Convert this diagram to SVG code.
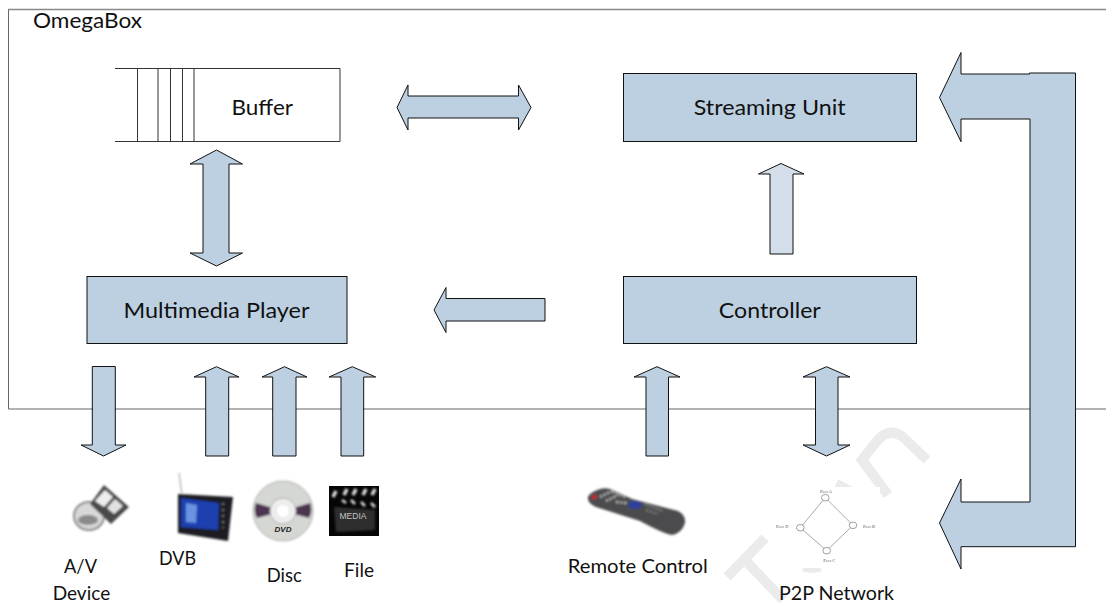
<svg xmlns="http://www.w3.org/2000/svg" width="1106" height="603" viewBox="0 0 1106 603">
<style>
.box{fill:#bdd0e2;stroke:#111;stroke-width:1}
.arr{fill:#bdd0e2;stroke:#111;stroke-width:1;stroke-linejoin:miter}
.lbl{font-family:Lato,"Liberation Sans",sans-serif;font-size:22px;fill:#111}
.sm{font-family:Lato,"Liberation Sans",sans-serif;font-size:18.5px;fill:#111}
.ln{fill:none;stroke:#333;stroke-width:1}
.wm{fill:none;stroke:#ebebeb;stroke-width:10}
.peer{font-family:"Liberation Serif",serif;font-size:4.5px;fill:#555;text-anchor:middle}
.pc{fill:#fff;stroke:#888;stroke-width:.8}
</style>
<defs>
<filter id="soft" x="-10%" y="-10%" width="120%" height="120%"><feGaussianBlur stdDeviation="0.8"/></filter>
<filter id="soft2" x="-10%" y="-10%" width="120%" height="120%"><feGaussianBlur stdDeviation="1.2"/></filter>
</defs>
<rect width="1106" height="603" fill="#fff"/>
<g id="watermark">
<path class="wm" d="M727 577L765 538M745 560L783 600"/>
<path class="wm" d="M927 460L903 437Q889 427 877 441L862 460L888 495"/>
<path class="wm" d="M836 484L852 492"/>
<path class="wm" style="stroke-width:5" d="M803 569Q812 572 821 569"/>
<rect x="770" y="487" width="110" height="81" fill="#fff"/>
</g>
<g id="omegabox">
<path d="M1106 9.5H8.5V409H1106" fill="none" stroke="#666" stroke-width="1"/>
<path d="M8 9.5H1106" stroke="#888" stroke-width="1.5"/>
<text class="lbl" x="33" y="27.7" textLength="109" lengthAdjust="spacingAndGlyphs">OmegaBox</text>
</g>
<g id="connectors">
<polygon class="arr" points="216.5,150 242.5,164 229,164 229,253 242.5,253 216.5,266 190,253 203,253 203,164 190,164"/>
<polygon class="arr" points="397,107.5 408,85 408,96 518.5,96 518.5,85 531,107.5 518.5,130 518.5,118 408,118 408,130"/>
<polygon class="arr" points="434,310 446,287.5 446,298.5 545,298.5 545,321 446,321 446,332.5"/>
<polygon class="arr" style="fill:#d3deea" points="781,163.5 804,174 793,174 793,254 770,254 770,174 758.5,174"/>
<polygon class="arr" points="939.5,97.5 961,52.5 961,74 1029.5,74 1029.5,73 1075.5,73 1075.5,546.7 961,546.7 961,569 939.5,523 961,479 961,502 1030,502 1030,119 961,119 961,141.7"/>
<polygon class="arr" points="92.3,366.5 115.3,366.5 115.3,445 126,445 103.5,456 81,445 92.3,445"/>
<polygon class="arr" points="216.5,366.7 239,377 228.7,377 228.7,456 205.7,456 205.7,377 194,377"/>
<polygon class="arr" points="284.5,366.7 307,377 296,377 296,456 272.7,456 272.7,377 262,377"/>
<polygon class="arr" points="352.3,366.7 375.7,377 363.7,377 363.7,456 341,456 341,377 329,377"/>
<polygon class="arr" points="657,366.7 680,377 668.5,377 668.5,456 646,456 646,377 634,377"/>
<polygon class="arr" points="826.5,366.7 850,377 838,377 838,445 850,445 826.5,456 803,445 815.5,445 815.5,377 803,377"/>
</g>
<g id="buffer">
<rect x="115" y="68.5" width="225" height="73" fill="#fff" stroke="none"/>
<path class="ln" d="M115 68.5H340V141.5H115M137.5 68.5V141.5M158 68.5V141.5M170.5 68.5V141.5M182.5 68.5V141.5M194 68.5V141.5"/>
<text class="lbl" x="231.5" y="114.7" textLength="61.5" lengthAdjust="spacingAndGlyphs">Buffer</text>
</g>
<g id="multimedia-player">
<rect class="box" x="87" y="276.5" width="260" height="67"/>
<text class="lbl" x="123.5" y="317.7" textLength="186" lengthAdjust="spacingAndGlyphs">Multimedia Player</text>
</g>
<g id="streaming-unit">
<rect class="box" x="623.5" y="73.5" width="293" height="68"/>
<text class="lbl" x="693.7" y="115" textLength="152" lengthAdjust="spacingAndGlyphs">Streaming Unit</text>
</g>
<g id="controller">
<rect class="box" x="623.5" y="276.5" width="293" height="67"/>
<text class="lbl" x="718.8" y="317.7" textLength="102" lengthAdjust="spacingAndGlyphs">Controller</text>
</g>
<g id="av-device">
<g filter="url(#soft2)">
<ellipse cx="89" cy="516" rx="15" ry="14" fill="#d8d8d8" stroke="#8a8a8a" stroke-width="2"/>
<ellipse cx="88" cy="520" rx="10" ry="5" fill="#8a8a8a"/>
<polygon points="104,485 129,507 111,524 90,504" fill="#4a4a4a"/>
<polygon points="105,490 113,497 104,507 95,501" fill="#eee"/>
<polygon points="115,499 123,506 114,514 107,508" fill="#e2e2e2"/>
</g>
<text class="sm" x="64" y="573" textLength="33" lengthAdjust="spacingAndGlyphs">A/V</text>
<text class="sm" x="52.7" y="600" textLength="57.5" lengthAdjust="spacingAndGlyphs">Device</text>
</g>
<g id="dvb">
<g filter="url(#soft)">
<path d="M179 473L182 495" stroke="#aaa" stroke-width="1.2"/>
<polygon points="178,494 233,497 228,541 178,533" fill="#1c1e24"/>
<polygon points="181,498 219,503 218,530 181,527" fill="#1d3fb0"/>
<polygon points="186,503 197,505 196,523 186,522" fill="#6a94e0"/>
<path d="M223 503V528" stroke="#888" stroke-width="1.5" stroke-dasharray="2 4"/>
</g>
<text class="sm" x="159" y="565" textLength="37" lengthAdjust="spacingAndGlyphs">DVB</text>
</g>
<g id="disc">
<g filter="url(#soft)">
<circle cx="283" cy="511" r="30" fill="#d4d7d2" stroke="#b0b0b0" stroke-width="1"/>
<path d="M283 511L256 503Q253 511 257 518ZM283 511L310 503Q313 511 309 518Z" fill="#4b3550"/>
<circle cx="283" cy="511" r="13" fill="#eee" stroke="#aaa"/>
<circle cx="283" cy="511" r="7" fill="#fff" stroke="#ddd"/>
</g>
<text x="283" y="532" text-anchor="middle" font-family="'Liberation Sans',sans-serif" font-size="8" font-weight="bold" font-style="italic" fill="#222">DVD</text>
<text class="sm" x="266.7" y="581.7" textLength="35" lengthAdjust="spacingAndGlyphs">Disc</text>
</g>
<g id="file">
<rect x="329" y="486" width="50" height="50" fill="#060606"/>
<g filter="url(#soft)">
<path d="M336 491L333 497M347 489L344 495M356 489L353 495M366 489L363 495M375 489L372 495" stroke="#ddd" stroke-width="3.5"/>
<path d="M342 500L346 503M351 500L355 504M361 502L365 506M371 503L375 507" stroke="#ddd" stroke-width="2.5"/>
<polygon points="334,507 375,510 375,530 336,532" fill="#2f2f2f"/>
</g>
<text x="353" y="519" text-anchor="middle" font-family="'Liberation Sans',sans-serif" font-size="8.5" fill="#c4c4c4">MEDIA</text>
<text class="sm" x="344" y="576.7" textLength="30" lengthAdjust="spacingAndGlyphs">File</text>
</g>
<g id="remote-control">
<g filter="url(#soft)">
<path d="M588 497Q590 492 600 489Q608 487 615 491L632 499L678 511Q686 515 685 523Q682 533 672 535Q664 534 640 521L596 507Q587 503 588 497Z" fill="#4c4c4e"/>
<circle cx="594" cy="497" r="2.3" fill="#d02020"/>
<ellipse cx="635" cy="505" rx="7" ry="4" fill="#2d3f9c"/>
<path d="M600 497L612 491M606 501L618 495M612 491L625 497M616 502L627 503" stroke="#b0b0b0" stroke-width="2.4" stroke-dasharray="2.5 1.5"/>
<path d="M645 504L662 511M646 510L658 514" stroke="#888" stroke-width="1.6" stroke-dasharray="2.5 1.5"/>
</g>
<text class="sm" x="567.8" y="572.7" textLength="140" lengthAdjust="spacingAndGlyphs">Remote Control</text>
</g>
<g id="p2p-network">
<path d="M825.3 497.7L853 525.3L826.7 550.7L800.3 527.7Z" fill="none" stroke="#aaa" stroke-width="1"/>
<ellipse class="pc" cx="825.3" cy="497.7" rx="3.8" ry="3.3"/>
<ellipse class="pc" cx="853" cy="525.3" rx="3.8" ry="3.3"/>
<ellipse class="pc" cx="826.7" cy="550.7" rx="3.8" ry="3.3"/>
<ellipse class="pc" cx="800.3" cy="527.7" rx="3.8" ry="3.3"/>
<text class="peer" x="826" y="492.5">Peer A</text>
<text class="peer" x="869" y="528">Peer B</text>
<text class="peer" x="829.3" y="561.5">Peer C</text>
<text class="peer" x="782.3" y="528">Peer D</text>
<text class="sm" x="779" y="600" textLength="115" lengthAdjust="spacingAndGlyphs">P2P Network</text>
</g>
</svg>
